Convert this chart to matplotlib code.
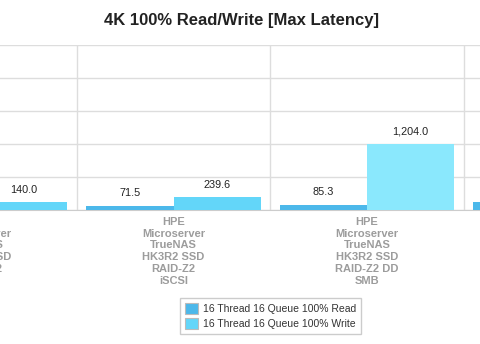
import matplotlib.pyplot as plt
import numpy as np

plt.rcParams['font.family'] = ['Liberation Sans', 'DejaVu Sans']

categories = [
    "HPE\nMicroserver\nTrueNAS\nHK3R2 SSD\nRAID-Z2\nSMB",
    "HPE\nMicroserver\nTrueNAS\nHK3R2 SSD\nRAID-Z2\niSCSI",
    "HPE\nMicroserver\nTrueNAS\nHK3R2 SSD\nRAID-Z2 DD\nSMB",
    "HPE\nMicroserver\nTrueNAS\nHK3R2 SSD\nRAID-Z2 DD\niSCSI",
]
read_ms = [65.0, 71.5, 85.3, 141.0]
write_ms = [140.0, 239.6, 1204.0, 310.0]
series_names = ["16 Thread 16 Queue 100% Read", "16 Thread 16 Queue 100% Write"]

read_col = '#4cb8ea'
write_col = '#63d6f9'
write_hi = '#8ae8fd'

fig = plt.figure(figsize=(4.8, 3.44), dpi=100)
# the chart is a cropped view, so the axes run past the figure edges
ax = fig.add_axes([-116.75 / 480, 134 / 344, 774 / 480, 165 / 344])

x = np.arange(len(categories))
w = 0.45
b1 = ax.bar(x - w / 2, read_ms, w, color=read_col, label=series_names[0], zorder=3)
b2 = ax.bar(x + w / 2, write_ms, w, color=[write_col, write_col, write_hi, write_col],
            label=series_names[1], zorder=3)
ax.bar_label(b1, labels=[f"{v:,.1f}" for v in read_ms], padding=6, fontsize=7.8, color='#222222')
ax.bar_label(b2, labels=[f"{v:,.1f}" for v in write_ms], padding=5, fontsize=7.8, color='#222222')

ax.set_xlim(-0.5, len(categories) - 0.5)
ax.set_ylim(0, 3000)
ax.set_yticks(np.arange(0, 3001, 600))
ax.set_yticklabels([])
ax.set_xticks(x)
ax.set_xticklabels(categories, fontsize=8, fontweight='bold', color='#9c9c9c', linespacing=1.22)
ax.set_xticks(np.arange(-0.5, len(categories), 1), minor=True)
ax.tick_params(axis='both', which='both', length=0)
ax.tick_params(axis='x', pad=5)
ax.grid(True, axis='y', color='#dddddd', linewidth=1, zorder=0)
ax.grid(True, axis='x', which='minor', color='#dddddd', linewidth=1, zorder=0)
for s in ['top', 'left', 'right']:
    ax.spines[s].set_visible(False)
ax.spines['bottom'].set_color('#cccccc')

fig.text(242 / 480, 1 - 20 / 344, "4K 100% Read/Write [Max Latency]", ha='center', va='center',
         fontsize=12, fontweight='bold', color='#222222')

h1 = plt.Rectangle((0, 0), 1, 1, facecolor=read_col, edgecolor='#bbbbbb', linewidth=0.8)
h2 = plt.Rectangle((0, 0), 1, 1, facecolor=write_col, edgecolor='#bbbbbb', linewidth=0.8)
leg = fig.legend([h1, h2], series_names, loc='upper center', bbox_to_anchor=(270.5 / 480, 1 - 298 / 344),
                 borderaxespad=0, fontsize=7.5, handlelength=1.25, handleheight=1.25, handletextpad=0.55,
                 labelspacing=0.45, borderpad=0.45, fancybox=False, edgecolor='#cccccc', framealpha=1)
leg.get_frame().set_linewidth(1)
for t in leg.get_texts():
    t.set_color('#333333')

fig.savefig('out.png', dpi=100)
